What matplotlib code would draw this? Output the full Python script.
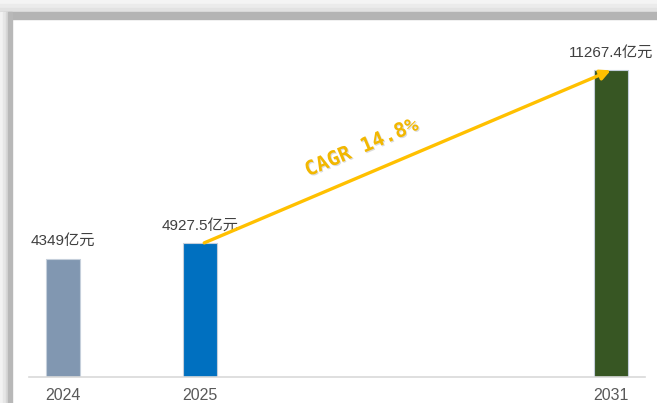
import matplotlib.pyplot as plt
from matplotlib.patches import Rectangle
import matplotlib.patheffects as pe
import numpy as np

years = ["2024", "2025", "2031"]
slots = [0, 1, 4]          # 2031 sits three slots after 2025
values = [4349, 4927.5, 11267.4]
value_labels = ["4349亿元", "4927.5亿元", "11267.4亿元"]
bar_colors = ["#8197b1", "#0070c0", "#375623"]
cagr_text = "CAGR 14.8%"

W, H = 657, 403
fig = plt.figure(figsize=(W / 100, H / 100), dpi=100, facecolor="white")

# shadowed frame along the top and left edges
top_steps = [(0, 4, "#f4f4f4"), (4, 8, "#ebebeb"), (8, 12, "#e2e2e2"), (12, 19, "#b4b4b4")]
for y0, y1, c in top_steps:
    fig.patches.append(Rectangle((0, 1 - y1 / H), 1, (y1 - y0) / H,
                                 transform=fig.transFigure, color=c, zorder=0))
left_steps = [(0, 3, "#f2f2f2"), (3, 6, "#e6e6e6"), (6, 8, "#d6d6d6"), (8, 12, "#b8b8b8")]
for x0, x1, c in left_steps:
    fig.patches.append(Rectangle((x0 / W, 0), (x1 - x0) / W, 1 - 12 / H,
                                 transform=fig.transFigure, color=c, zorder=0))

ax = fig.add_axes([29 / W, 26 / H, 616 / W, 347 / H])
ax.patch.set_alpha(0)

ax.bar(slots, values, width=0.25, color=bar_colors, edgecolor="#c5cfdb", linewidth=0.8, zorder=2)

lbl_font = ["Liberation Sans", "Noto Sans CJK SC"]
for x, v, t in zip(slots, values, value_labels):
    ax.annotate(t, (x, v), xytext=(0, 12.5), textcoords="offset points",
                ha="center", va="center", fontsize=11, color="#404040", family=lbl_font)

ax.set_xlim(-0.25, 4.25)
ax.set_ylim(0, 12750)
ax.set_xticks(slots)
ax.set_xticklabels(years, fontsize=11.5, color="#595959", family="Liberation Sans")
ax.tick_params(axis="x", length=0, pad=8)
ax.set_yticks([])
for s in ["top", "right", "left"]:
    ax.spines[s].set_visible(False)
ax.spines["bottom"].set_color("#d9d9d9")
ax.spines["bottom"].set_linewidth(1.2)

# growth arrow from the 2025 bar to the 2031 bar
start = (slots[1] + 0.03, values[1])
end = (slots[2], values[2])
ax.annotate("", xy=end, xytext=start,
            arrowprops=dict(arrowstyle="-|>", color="#ffc000", lw=2.4,
                            mutation_scale=15, shrinkA=0, shrinkB=0), zorder=3)

fig.canvas.draw()
p0 = ax.transData.transform(start)
p1 = ax.transData.transform(end)
angle = np.degrees(np.arctan2(p1[1] - p0[1], p1[0] - p0[0]))
ax.text(2.18, 8420, cagr_text, rotation=angle, rotation_mode="anchor",
        ha="center", va="center", fontsize=14.5, color="#f2b700",
        family="DejaVu Sans Mono", fontweight="bold",
        path_effects=[pe.withSimplePatchShadow(offset=(0.8, -0.8), shadow_rgbFace="#999999", alpha=0.35)])

fig.savefig("out.png", dpi=100, facecolor="white")
